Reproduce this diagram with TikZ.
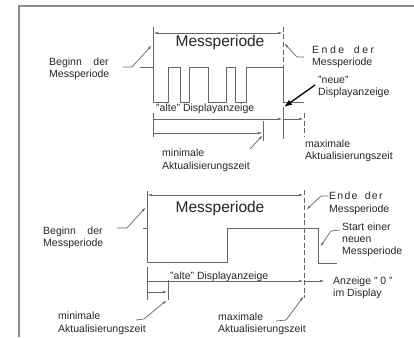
\documentclass[tikz,border=0pt]{standalone}
\usepackage{fontspec}
\setmainfont{Liberation Sans}
\usetikzlibrary{arrows.meta}
\tikzset{
  line/.style={draw=black!60, line width=0.7pt},
  dline/.style={line, dash pattern=on 5pt off 2.5pt},
  dim/.style={line, -{Latex[length=5pt,width=2.2pt]}},
  dimboth/.style={line, {Latex[length=5pt,width=2.2pt]}-{Latex[length=5pt,width=2.2pt]}},
  lead/.style={line, -{Latex[length=5pt,width=2.2pt]}},
  lbl/.style={align=left, anchor=west, inner sep=0pt, text=black!85,
    font=\fontsize{10.5}{11.8}\selectfont},
  big/.style={inner sep=0pt, text=black!85, font=\fontsize{15.5}{18}\selectfont},
}
\begin{document}
\begin{tikzpicture}[x=1pt, y=-1pt]
    \useasboundingbox (0,0) rectangle (414,337);
    \draw[black!45, line width=1.4pt] (414,6) -- (19,6) -- (19,337);

    % upper picture
    \node[big] (mp1) at (220,42) {Messperiode};
    \node[lbl] (beg1) at (49,69) {Beginn\hspace{1.1em}der\\Messperiode};
    \node[lbl] (end1) at (312,57) {{\addfontfeatures{LetterSpace=24}Ende\hspace{0.4em} der}\\Messperiode};
    \node[lbl] (new1) at (318,87) {"neue"\\Displayanzeige};
    \node[lbl] (old1) at (156,109) {"alte" Displayanzeige};
    \node[lbl] (max1) at (305,150.5) {maximale\\Aktualisierungszeit};
    \node[lbl, font=\fontsize{10.5}{13}\selectfont] (min1) at (162,160.5) {minimale\\Aktualisierungszeit};

    \draw[line] (153,27) -- (153,67);
    \draw[dline] (283,27) -- (283,67);
    \draw[dimboth] (153,33) -- (283,33);
    \draw[line] (140,67) -- (153,67) -- (153,102) -- (168,102) -- (168,67) -- (180,67)
        -- (180,102) -- (189,102) -- (189,67) -- (208,67) -- (208,102) -- (226,102)
        -- (226,67) -- (235,67) -- (235,102) -- (246,102) -- (246,67) -- (283,67)
        -- (283,102) -- (304,102);

    \draw[line] (153,113) -- (153,137);
    \draw[line] (283,107) -- (283,139);
    \draw[dline] (304,113) -- (304,137);
    \draw[line] (263,121) -- (263,141);
    \coordinate (t0) at (153,119);
    \coordinate (t1) at (283,119);
    \coordinate (t2) at (304,119);
    \coordinate (t3) at (153,133);
    \coordinate (t4) at (263,133);
    \draw[dim] (t0) -- (t1);
    \draw[dim] (t1) -- (t2);
    \draw[dim] (t3) -- (t4);

    \coordinate (b1) at (123,67);
    \coordinate (b1t) at (152,45);
    \draw[lead] (b1) -- (132,67) -- (b1t);
    \coordinate (e1) at (304,57);
    \coordinate (e1t) at (284,43);
    \draw[lead] (e1) -- (297,57) -- (e1t);
    \coordinate (n1) at (315,85);
    \coordinate (n1t) at (284,107);
    \draw[black, line width=1.3pt, -{Latex[length=8pt,width=6pt]}] (n1) -- (n1t);
    \coordinate (m1) at (250,149);
    \coordinate (m1t) at (263,135);
    \draw[lead] (m1) -- (m1t);

    % lower picture
    \node[big] (mp2) at (220,208) {Messperiode};
    \node[lbl] (beg2) at (43,238) {Beginn\hspace{1.1em}der\\Messperiode};
    \node[lbl, font=\fontsize{10.5}{12.5}\selectfont] (end2) at (329,203.5) {{\addfontfeatures{LetterSpace=12}Ende\hspace{0.3em} der}\\Messperiode};
    \node[lbl] (new2) at (342,240) {Start einer\\neuen\\Messperiode};
    \node[lbl] (old2) at (170,277) {"alte" Displayanzeige};
    \node[lbl] (zero2) at (333,287.5) {Anzeige " 0 "\\im Display};
    \node[lbl, font=\fontsize{10.5}{13}\selectfont] (min2) at (58,323.5) {minimale\\Aktualisierungszeit};
    \node[lbl] (max2) at (218,324) {maximale\\Aktualisierungszeit};

    \draw[line] (147,191) -- (147,228);
    \draw[dline] (304,190) -- (304,298);
    \draw[dimboth] (147,195) -- (304,195);
    \draw[line] (143,228) -- (147,228) -- (147,262) -- (227,262) -- (227,228)
        -- (318,228) -- (318,263) -- (337,263);

    \draw[line] (147,267) -- (147,300);
    \draw[line] (168,280) -- (168,300);
    \coordinate (u0) at (147,281);
    \coordinate (u1) at (304,281);
    \coordinate (u2) at (325,281);
    \coordinate (u3) at (147,292);
    \coordinate (u4) at (168,292);
    \draw[dim] (u0) -- (u1);
    \draw[dim] (u1) -- (u2);
    \draw[dim] (u3) -- (u4);

    \coordinate (b2) at (117,228);
    \coordinate (b2t) at (146,207);
    \draw[lead] (b2) -- (127,228) -- (b2t);
    \coordinate (e2) at (328,196);
    \coordinate (e2t) at (306,210);
    \draw[lead] (e2) -- (321,196) -- (e2t);
    \coordinate (s2) at (340,230);
    \coordinate (s2t) at (320,247);
    \draw[lead] (s2) -- (331,231) -- (s2t);
    \coordinate (m2) at (136,320);
    \coordinate (m2t) at (167,300);
    \draw[lead] (m2) -- (144,319) -- (m2t);
    \coordinate (x2) at (276,321);
    \coordinate (x2t) at (304,296);
    \draw[lead] (x2) -- (286,320) -- (x2t);
\end{tikzpicture}
\end{document}
